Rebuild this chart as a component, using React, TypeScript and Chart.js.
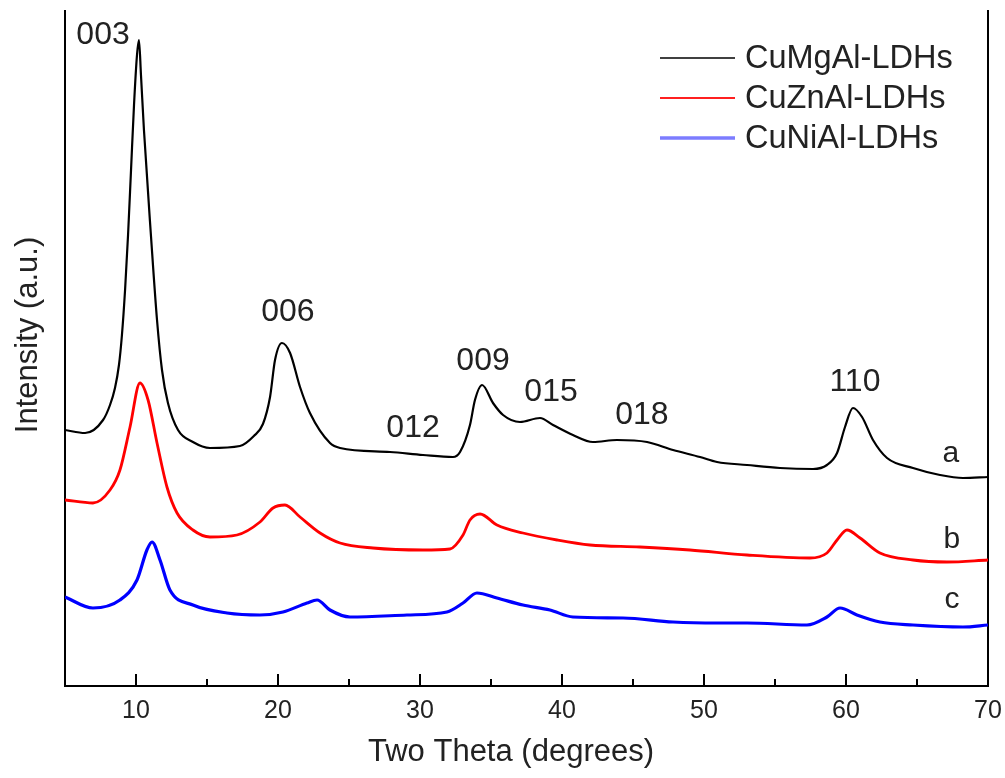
import React, { useEffect, useRef } from "react";
import { Chart, registerables } from "chart.js";

Chart.register(...registerables);

// ---- Data ----
const seriesNames = ["CuMgAl-LDHs", "CuZnAl-LDHs", "CuNiAl-LDHs"];
const curveLabels = ["a", "b", "c"];

const angleA = [5.0, 6.41, 7.68, 8.17, 8.52, 8.8, 9.01, 9.23, 9.44, 9.65, 9.86, 10.07, 10.21, 10.35, 10.56, 11.06, 11.48, 11.83, 12.25, 12.96, 14.01, 15.21, 17.32, 18.3, 18.94, 19.44, 19.79, 20.28, 20.85, 21.55, 22.25, 23.66, 24.37, 27.89, 30.21, 32.32, 32.82, 33.52, 33.87, 34.37, 35.14, 35.85, 37.04, 38.45, 39.37, 40.77, 42.18, 43.87, 45.99, 47.82, 49.72, 50.92, 53.03, 55.35, 57.68, 58.66, 59.37, 59.93, 60.49, 61.13, 61.9, 62.89, 64.72, 66.62, 68.24, 70.0];
const intensityA = [256, 253, 266, 281, 298, 321, 351, 396, 451, 516, 581, 631, 646, 611, 556, 449, 366, 316, 283, 256, 244, 238, 240, 250, 262, 289, 326, 343, 333, 299, 273, 243, 238, 234, 231, 229, 234, 261, 286, 301, 283, 271, 264, 268, 261, 251, 244, 246, 244, 236, 229, 224, 221, 218, 217, 221, 233, 259, 278, 269, 246, 228, 218, 211, 208, 209];

const angleB = [5.0, 6.97, 8.17, 8.87, 9.58, 10.28, 10.85, 11.48, 12.18, 12.89, 14.01, 15.21, 17.11, 18.73, 19.65, 20.49, 21.55, 22.96, 24.37, 26.69, 30.21, 32.11, 33.03, 33.52, 34.23, 35.42, 37.25, 39.65, 41.97, 45.49, 49.01, 53.03, 57.46, 58.66, 59.37, 60.07, 60.99, 62.39, 64.72, 67.11, 70.0];
const intensityB = [186, 183, 196, 216, 259, 303, 286, 243, 199, 173, 156, 149, 151, 164, 178, 181, 169, 153, 143, 138, 136, 137, 151, 166, 172, 161, 153, 146, 141, 139, 136, 131, 128, 133, 146, 156, 148, 133, 126, 124, 126];

const angleC = [5.0, 6.97, 8.87, 10.07, 10.77, 11.13, 11.69, 12.39, 14.01, 16.41, 18.73, 20.35, 22.04, 22.75, 23.66, 25.07, 29.08, 31.9, 33.03, 34.01, 35.42, 37.25, 39.15, 40.77, 44.3, 47.82, 50.92, 53.03, 57.25, 58.66, 59.58, 60.77, 62.39, 64.72, 68.24, 70.0];
const intensityC = [89, 78, 86, 106, 136, 144, 126, 96, 81, 73, 71, 74, 83, 86, 76, 69, 71, 74, 83, 93, 88, 81, 76, 69, 68, 64, 63, 63, 61, 69, 78, 71, 64, 61, 59, 61];

// Peak (hkl) annotations, anchored in data coordinates
const peakLabels = ["003", "006", "012", "009", "015", "018", "110"];
const peakLabelAngle = [7.68, 20.7, 29.51, 34.44, 39.23, 45.63, 60.63];
const peakLabelIntensity = [651, 374, 258, 325, 294, 271, 304];

// Curve letters a, b, c
const curveLabelAngle = [67.39, 67.46, 67.46];
const curveLabelIntensity = [232, 146, 86];

const xTickValues = [10, 20, 30, 40, 50, 60, 70];
const xTitle = "Two Theta (degrees)";
const yTitle = "Intensity (a.u.)";

const FONT = "'Liberation Sans', Arial, Helvetica, sans-serif";
const TEXT = "#222";
const lineColors = ["#000000", "#ff0000", "#0000ff"];
const legendColors = ["#000000", "#ff2020", "#7c7cff"];
const lineWidths = [2.2, 2.8, 3.2];
const legendWidths = [1.5, 2, 3.5];

const toPoints = (xs: number[], ys: number[]) => xs.map((x, i) => ({ x, y: ys[i] }));

const overlayPlugin = {
  id: "overlay",
  afterDraw(chart: any) {
    const { ctx, chartArea, scales } = chart;
    const xs = scales.x;
    const ys = scales.y;
    ctx.save();

    // inward tick marks on x axis
    ctx.strokeStyle = "#000";
    ctx.lineWidth = 2;
    xs.ticks.forEach((t: any) => {
      const px = Math.round(xs.getPixelForValue(t.value));
      if (px <= chartArea.left + 1 || px >= chartArea.right - 1) return;
      const len = xTickValues.includes(t.value) ? 12 : 7;
      ctx.beginPath();
      ctx.moveTo(px, chartArea.bottom);
      ctx.lineTo(px, chartArea.bottom - len);
      ctx.stroke();
    });

    // peak labels
    ctx.fillStyle = TEXT;
    ctx.textAlign = "center";
    ctx.textBaseline = "middle";
    ctx.font = `32px ${FONT}`;
    peakLabels.forEach((lab, i) => {
      ctx.fillText(lab, xs.getPixelForValue(peakLabelAngle[i]), ys.getPixelForValue(peakLabelIntensity[i]));
    });
    ctx.font = `30px ${FONT}`;
    curveLabels.forEach((lab, i) => {
      ctx.fillText(lab, xs.getPixelForValue(curveLabelAngle[i]), ys.getPixelForValue(curveLabelIntensity[i]));
    });

    // legend
    const lx0 = chartArea.left + 595;
    const ly0 = chartArea.top + 47;
    ctx.textAlign = "left";
    ctx.font = `32.5px ${FONT}`;
    seriesNames.forEach((name, i) => {
      const y = ly0 + i * 40;
      ctx.strokeStyle = legendColors[i];
      ctx.lineWidth = legendWidths[i];
      ctx.beginPath();
      ctx.moveTo(lx0, y);
      ctx.lineTo(lx0 + 75, y);
      ctx.stroke();
      ctx.fillStyle = TEXT;
      ctx.fillText(name, lx0 + 85, y + 1);
    });

    // x axis title
    ctx.textAlign = "center";
    ctx.font = `31px ${FONT}`;
    ctx.fillText(xTitle, chartArea.left + 446, chartArea.bottom + 66);

    // y axis title
    ctx.save();
    ctx.translate(chartArea.left - 37, chartArea.top + 324);
    ctx.rotate(-Math.PI / 2);
    ctx.textAlign = "center";
    ctx.textBaseline = "middle";
    ctx.font = `31px ${FONT}`;
    ctx.fillStyle = TEXT;
    ctx.fillText(yTitle, 0, 0);
    ctx.restore();

    ctx.restore();
  },
};

export default function App() {
  const canvasRef = useRef<HTMLCanvasElement | null>(null);

  useEffect(() => {
    if (!canvasRef.current) return;
    const series = [
      toPoints(angleA, intensityA),
      toPoints(angleB, intensityB),
      toPoints(angleC, intensityC),
    ];
    const chart = new Chart(canvasRef.current, {
      type: "line",
      data: {
        datasets: series.map((pts, i) => ({
          label: seriesNames[i],
          data: pts,
          borderColor: lineColors[i],
          backgroundColor: lineColors[i],
          borderWidth: lineWidths[i],
          pointRadius: 0,
          fill: false,
          cubicInterpolationMode: "monotone" as const,
        })),
      },
      options: {
        animation: false,
        responsive: false,
        maintainAspectRatio: false,
        layout: { padding: { top: 11, right: 0, left: 0, bottom: 0 } },
        plugins: {
          legend: { display: false },
          tooltip: { enabled: false },
        },
        scales: {
          x: {
            type: "linear",
            min: 5,
            max: 70,
            afterFit: (s: any) => {
              s.height = 92;
              s.paddingLeft = 0;
              s.paddingRight = 0;
            },
            ticks: {
              stepSize: 5,
              autoSkip: false,
              maxRotation: 0,
              padding: 10,
              color: TEXT,
              font: { size: 25, family: FONT },
              callback: (v: any) => (xTickValues.includes(Number(v)) ? String(v) : ""),
            },
            grid: { display: false, drawTicks: false },
            border: { display: true, color: "#000", width: 2 },
          },
          y: {
            type: "linear",
            min: 0,
            max: 675,
            afterFit: (s: any) => {
              s.width = 65;
              s.paddingTop = 0;
              s.paddingBottom = 0;
            },
            ticks: { display: false },
            grid: { display: false, drawTicks: false },
            border: { display: true, color: "#000", width: 2 },
          },
          y2: {
            type: "linear",
            position: "right",
            min: 0,
            max: 675,
            afterFit: (s: any) => {
              s.width = 17;
              s.paddingTop = 0;
              s.paddingBottom = 0;
            },
            ticks: { display: false },
            grid: { display: false, drawTicks: false },
            border: { display: true, color: "#000", width: 2 },
          },
        },
      },
      plugins: [overlayPlugin],
    });
    return () => chart.destroy();
  }, []);

  return (
    <div style={{ position: "absolute", left: 0, top: 0, width: 1005, height: 778, background: "#fff" }}>
      <canvas ref={canvasRef} width={1005} height={778} />
    </div>
  );
}
